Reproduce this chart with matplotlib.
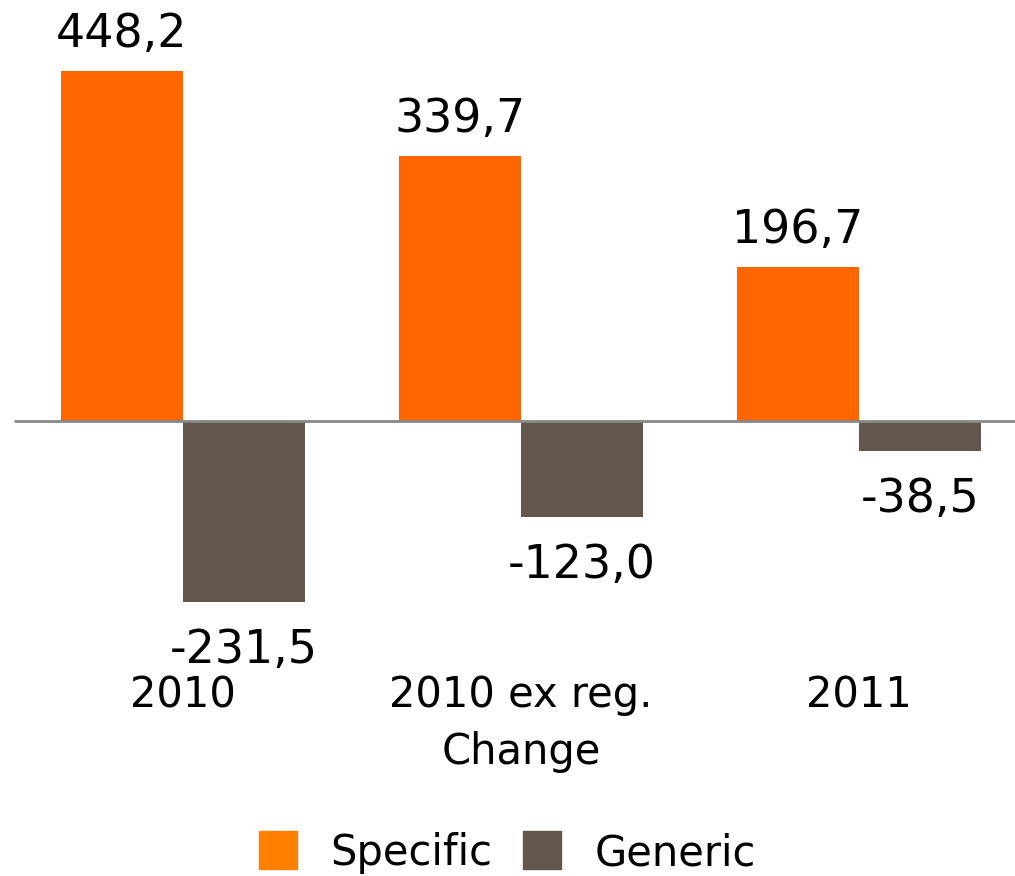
import numpy as np
import matplotlib.pyplot as plt
from matplotlib.lines import Line2D

categories = ['2010', '2010 ex reg.', '2011']
specific = [448.2, 339.7, 196.7]
generic = [-231.5, -123.0, -38.5]

orange = '#FF6600'
brown = '#63564B'

plt.rcParams['font.family'] = ['DejaVu Sans']

fig = plt.figure(figsize=(10.15, 8.76), dpi=100)
ax = fig.add_axes([0, 0, 1, 1])

x = np.arange(len(categories))
w = 122 / 338

ax.bar(x - w / 2, specific, w, color=orange)
ax.bar(x + w / 2, generic, w, color=brown)

ax.hlines(0, -0.5, 2.47, color='#888888', lw=2, zorder=3)

# wertlabels
for xi, v in zip(x, specific):
    ax.text(xi - w / 2, v + 18, '{:.1f}'.format(v).replace('.', ','),
            ha='center', va='bottom', fontsize=33)
for xi, v in zip(x, generic):
    ax.text(xi + w / 2, v - 33, '{:.1f}'.format(v).replace('.', ','),
            ha='center', va='top', fontsize=33)

# kategorien + achsentitel
for xi, c in zip(x, categories):
    ax.text(xi, -351, c, ha='center', va='center', fontsize=30)
ax.text(1, -424, 'Change', ha='center', va='center', fontsize=30)

ax.set_xlim(-183 / 338, (1015 - 183) / 338)
ax.set_ylim(-(876 - 421) / 0.781, 421 / 0.781)
ax.axis('off')

handles = [Line2D([], [], ls='', marker='s', ms=28, color='#FF7F00', label='Specific'),
           Line2D([], [], ls='', marker='s', ms=28, color=brown, label='Generic')]
fig.legend(handles=handles, loc='center', bbox_to_anchor=(0.489, 1 - 853 / 876),
           ncol=2, frameon=False, fontsize=30, handletextpad=0.25, columnspacing=0.2)

plt.savefig('out.png')
